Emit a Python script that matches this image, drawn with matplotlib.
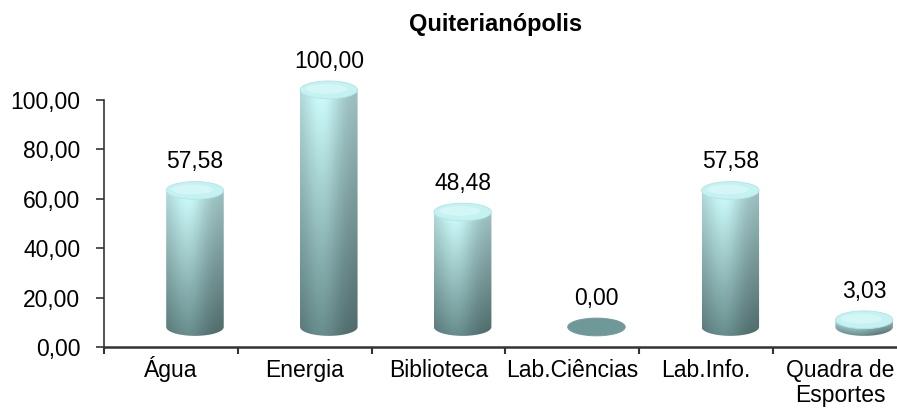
import numpy as np
import matplotlib
matplotlib.use("Agg")
import matplotlib.pyplot as plt
from matplotlib.patches import Ellipse, PathPatch
from matplotlib.path import Path
from matplotlib.transforms import ScaledTranslation

plt.rcParams['font.family'] = ['Liberation Sans', 'DejaVu Sans']

categories = ['Água', 'Energia', 'Biblioteca', 'Lab.Ciências', 'Lab.Info.', 'Quadra de\nEsportes']
values = [57.58, 100.00, 48.48, 0.00, 57.58, 3.03]
yticks = [0, 20, 40, 60, 80, 100]

fig = plt.figure(figsize=(8.97, 4.12), dpi=100)
ax = fig.add_axes([0.1159, 0.1578, 0.8952, 0.5995])

# fake 3d: cylinders sit a bit up and right of the category slot
dx, base, scale = 0.18, 8.1, 0.96
w, ry = 0.43, 3.6

top_col = np.array([0.80, 0.98, 0.98])
bot_col = np.array([0.40, 0.54, 0.54])

def shade_img(h=200, wd=100):
    t = np.linspace(0, 1, h)[:, None, None]
    u = np.linspace(0, 1, wd)[None, :, None]
    col = top_col * (1 - t) + bot_col * t
    s = 0.82 + 0.22 * np.exp(-((u - 0.38) / 0.32) ** 2) - 0.06 * u
    return np.clip(col * s, 0, 1)

img = shade_img()
for i, v in enumerate(values):
    xc = i + dx
    xl, xr = xc - w / 2, xc + w / 2
    y0 = base
    y1 = base + scale * v
    if v > 0:
        th = np.linspace(np.pi, 2 * np.pi, 40)
        arc = np.column_stack([xc + w / 2 * np.cos(th), y0 + ry * np.sin(th)])
        verts = np.vstack([[xl, y1], arc, [xr, y1], [xl, y1]])
        codes = [Path.MOVETO] + [Path.LINETO] * (len(verts) - 2) + [Path.CLOSEPOLY]
        pp = PathPatch(Path(verts, codes), fc='none', ec='none',
                       transform=ax.transData, clip_on=False)
        ax.add_patch(pp)
        im = ax.imshow(img, extent=[xl, xr, y0 - ry, y1], aspect='auto',
                       interpolation='bilinear', zorder=2)
        im.set_clip_path(pp)
        im.set_clip_box(fig.bbox)
        cap = '#c4f1f1'
        edge = '#b4e4e4'
    else:
        cap = '#6f9898'
        edge = '#6f9898'
    ax.add_patch(Ellipse((xc, y1), w, 2 * ry, fc=cap, ec=edge, lw=0.6,
                         zorder=3, clip_on=False))
    if v > 0:
        ax.add_patch(Ellipse((xc - 0.02, y1 + 0.4), w * 0.72, 2 * ry * 0.55,
                             fc='#dcf9f9', ec='none', alpha=0.7,
                             zorder=3, clip_on=False))
    ax.annotate(f"{v:.2f}".replace('.', ','), (xc, y1 + ry), xytext=(0, 6),
                textcoords='offset points', ha='center', va='bottom',
                fontsize=16.5, annotation_clip=False)

ax.set_xlim(-0.5, 5.5)
ax.set_ylim(0, 100)
ax.set_yticks(yticks)
ax.set_yticklabels([f"{t:.2f}".replace('.', ',') for t in yticks])
ax.set_xticks(np.arange(-0.5, 6, 1))
ax.set_xticklabels([])
ax.set_xticks(range(len(categories)), minor=True)
ax.tick_params(axis='x', which='minor', length=0, pad=21.5, labelsize=16.5)
ax.tick_params(axis='x', which='major', length=5, width=1.5, color='#333333')
ax.tick_params(axis='y', length=6, width=1.2, pad=11, labelsize=16.5, color='#333333')
ax.set_xticklabels(categories, minor=True, va='baseline')
# two-line label: baseline alignment uses the last line, so push it down one line
lbl = ax.get_xticklabels(minor=True)[5]
lbl.set_linespacing(1.1)
lbl.set_transform(lbl.get_transform() + ScaledTranslation(0, -0.25, fig.dpi_scale_trans))

for s in ['top', 'right']:
    ax.spines[s].set_visible(False)
ax.spines['left'].set_color('#333333')
ax.spines['left'].set_linewidth(1.2)
ax.spines['bottom'].set_color('#333333')
ax.spines['bottom'].set_linewidth(1.8)
ax.set_facecolor('none')

fig.text(496 / 897, 1 - 24 / 412, 'Quiterianópolis', ha='center', va='center',
         fontsize=17, fontweight='bold')

fig.savefig('out.png', dpi=100)
